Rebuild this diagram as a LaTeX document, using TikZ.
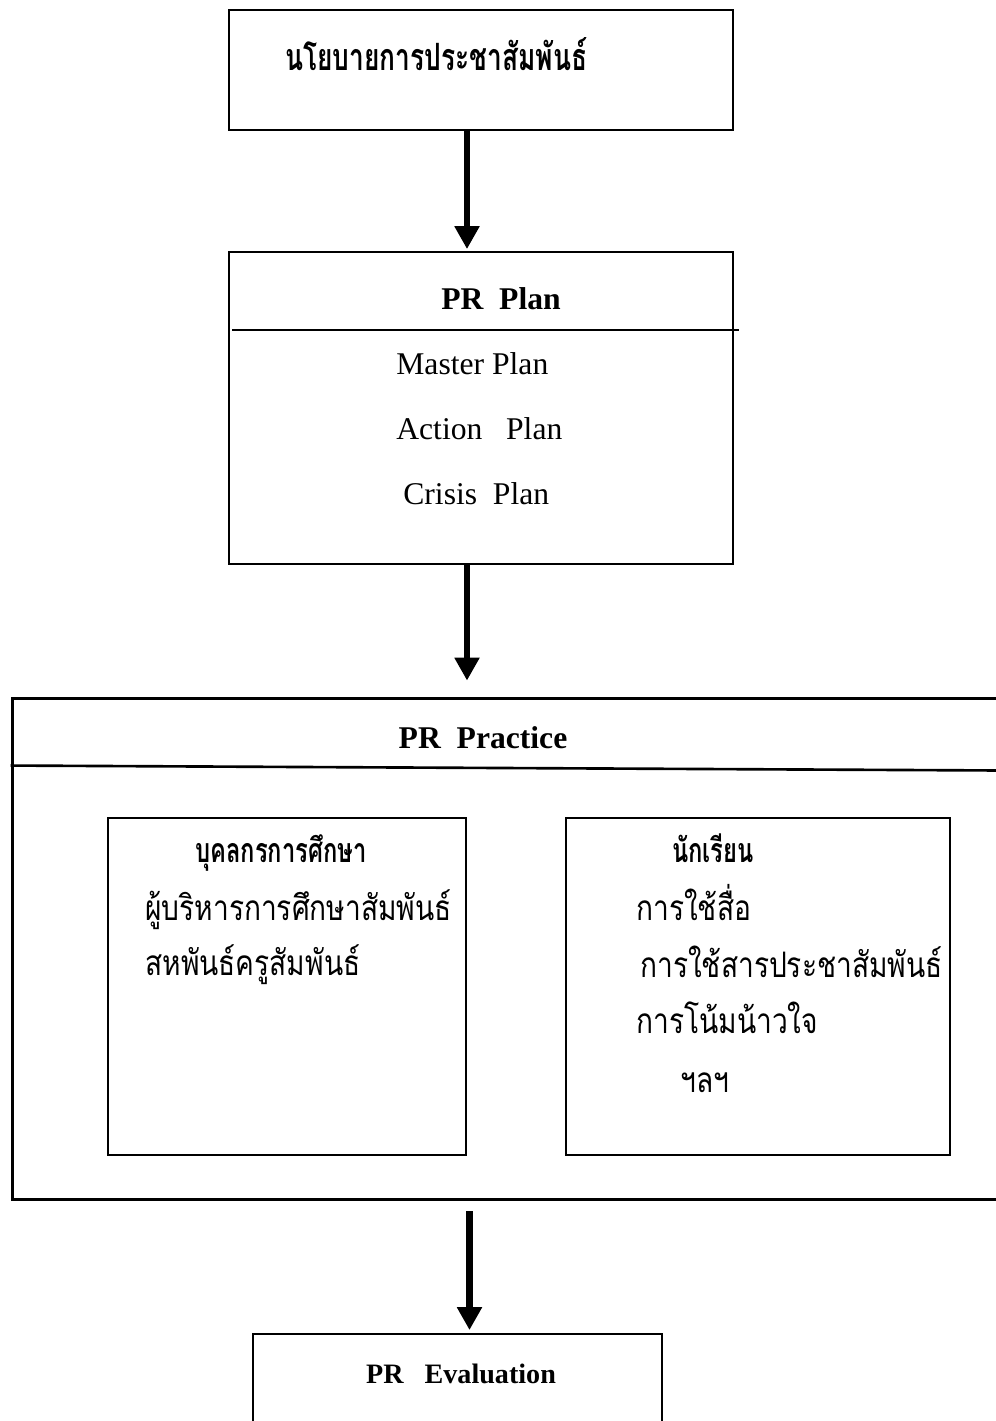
\documentclass[tikz,border=0pt]{standalone}
\usepackage{fontspec}
\setmainfont{Liberation Serif}
\newfontfamily\thaifont[Script=Thai, FakeStretch=0.8]{Loma}
\newfontfamily\thaiheadfont[Script=Thai, FakeStretch=0.7]{Loma}
\usetikzlibrary{arrows.meta}

\begin{document}
\begin{tikzpicture}[x=0.02cm, y=-0.02cm,
    box/.style={rectangle, draw, line width=1.1pt, inner sep=0pt},
    arrow/.style={-{Triangle[width=13.5pt, length=13pt]}, line width=3.6pt},
    divider/.style={line width=1pt},
    heading/.style={font=\fontsize{18}{22}\selectfont\bfseries, inner sep=0pt, anchor=base},
    item/.style={font=\fontsize{18}{22}\selectfont, inner sep=0pt, anchor=base west},
    thaihead/.style={font=\thaiheadfont\fontsize{19.3}{22}\selectfont\bfseries, inner sep=0pt, anchor=base},
    thaiitem/.style={font=\thaifont\fontsize{20}{24}\selectfont, inner sep=0pt, anchor=base west}
]
    \useasboundingbox (0,0) rectangle (996,1421);
    \clip (0,0) rectangle (996,1421);

    % policy
    \node[box, minimum width=10.08cm, minimum height=2.4cm] (policy) at (481,70) {};
    \node[thaihead, anchor=base west, font=\thaiheadfont\fontsize{21.4}{24}\selectfont\bfseries] (policytext) at (285,70) {นโยบายการประชาสัมพันธ์};

    % plan
    \node[box, minimum width=10.08cm, minimum height=6.24cm] (plan) at (481,408) {};
    \draw[divider] ([xshift=0.08cm, yshift=-1.58cm]plan.north west) -- ([xshift=0.1cm, yshift=-1.58cm]plan.north east);
    \node[heading] (plantitle) at (501,309) {PR\ \ Plan};
    \node[item] (master) at (396,374) {Master Plan};
    \node[item] (action) at (396,439) {Action\ \ \ Plan};
    \node[item] (crisis) at (403,504) {Crisis\ \ Plan};

    % practice
    \node[box, line width=1.7pt, minimum width=19.96cm, minimum height=10.04cm] (practice) at (511,949) {};
    \draw[divider, line width=1.5pt] ([yshift=-1.38cm]practice.north west) -- ([yshift=-1.48cm]practice.north east);
    \node[heading] (practicetitle) at (483,748) {PR\ \ Practice};

    \node[box, line width=0.9pt, minimum width=7.16cm, minimum height=6.74cm] (staff) at (287,986.5) {};
    \node[thaihead] (stafftitle) at (281,862) {บุคลกรการศึกษา};
    \node[thaiitem] (staff1) at (145,920) {ผู้บริหารการศึกษาสัมพันธ์};
    \node[thaiitem] (staff2) at (145,975) {สหพันธ์ครูสัมพันธ์};

    \node[box, line width=0.9pt, minimum width=7.68cm, minimum height=6.74cm] (student) at (758,986.5) {};
    \node[thaihead] (studenttitle) at (713,862) {นักเรียน};
    \node[thaiitem] (student1) at (636,920) {การใช้สื่อ};
    \node[thaiitem] (student2) at (640,977) {การใช้สารประชาสัมพันธ์};
    \node[thaiitem] (student3) at (636,1033) {การโน้มน้าวใจ};
    \node[thaiitem] (student4) at (680,1092) {ฯลฯ};

    % evaluation
    \node[box, minimum width=8.18cm, minimum height=2.94cm] (eval) at (457.5,1407.5) {};
    \node[heading, font=\fontsize{16}{19}\selectfont\bfseries] (evaltitle) at (461,1383) {PR\ \ \ Evaluation};

    \draw[arrow] ([xshift=-0.28cm]policy.south) -- ([xshift=-0.28cm, yshift=0.04cm]plan.north);
    \draw[arrow, shorten >=0.32cm] ([xshift=-0.28cm]plan.south) -- ([xshift=-0.28cm]plan.south |- practice.north);
    \draw[arrow, shorten <=0.2cm] ([xshift=0.24cm]eval.north |- practice.south) -- ([xshift=0.24cm, yshift=0.06cm]eval.north);
\end{tikzpicture}
\end{document}
